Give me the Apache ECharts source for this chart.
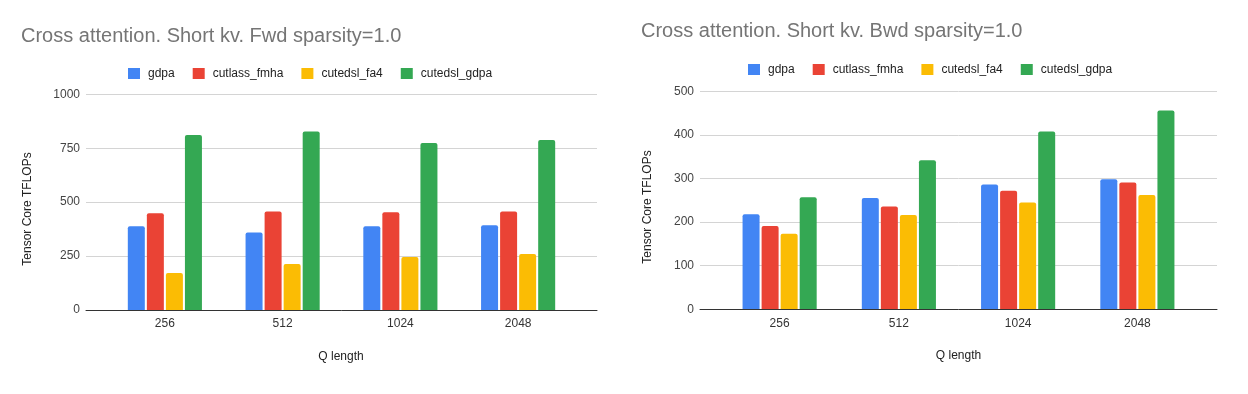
<!DOCTYPE html>
<html>
<head>
<meta charset="utf-8">
<script src="https://cdn.jsdelivr.net/npm/echarts@6/dist/echarts.min.js"></script>
<style>
html,body{margin:0;padding:0;background:#fff;}
#chart{width:1248px;height:394px;}
</style>
</head>
<body>
<div id="chart"></div>
<script>
const categories = ['256', '512', '1024', '2048'];
const seriesNames = ['gdpa', 'cutlass_fmha', 'cutedsl_fa4', 'cutedsl_gdpa'];
const colors = ['#4285F4', '#EA4335', '#FBBC04', '#34A853'];

const fwdGdpa = [388, 359, 388, 393];
const fwdCutlassFmha = [448, 457, 453, 457];
const fwdCutedslFa4 = [172, 213, 246, 260];
const fwdCutedslGdpa = [811, 827, 774, 788];

const bwdGdpa = [218, 255, 286, 298];
const bwdCutlassFmha = [191, 236, 272, 291];
const bwdCutedslFa4 = [173, 216, 245, 262];
const bwdCutedslGdpa = [257, 342, 408, 456];

const fwdTicks = {min: 0, max: 1000, interval: 250};
const bwdTicks = {min: 0, max: 500, interval: 100};

const titles = ['Cross attention. Short kv. Fwd sparsity=1.0', 'Cross attention. Short kv. Bwd sparsity=1.0'];
const yTitle = 'Tensor Core TFLOPs';
const xTitle = 'Q length';

const FONT = '"Liberation Sans", Arial, sans-serif';
const chart = echarts.init(document.getElementById('chart'), null, {renderer: 'canvas'});

function frameAxes(gridIndex, ticks) {
  return {
    x: {
      type: 'category', gridIndex: gridIndex, data: [''],
      axisLine: {show: true, lineStyle: {color: '#333', width: 1}},
      axisTick: {show: false}, axisLabel: {show: false}, z: 5
    },
    y: {
      type: 'value', gridIndex: gridIndex, min: ticks.min, max: ticks.max, interval: ticks.interval,
      axisLine: {show: false}, axisTick: {show: false},
      axisLabel: {color: '#444', fontSize: 12, fontFamily: FONT, margin: 6, formatter: v => String(v)},
      splitLine: {lineStyle: {color: '#d4d4d4', width: 1}}
    }
  };
}
function barAxes(gridIndex, ticks) {
  return {
    x: {
      type: 'category', gridIndex: gridIndex, data: categories,
      axisLine: {show: false}, axisTick: {show: false},
      axisLabel: {color: '#333', fontSize: 12, fontFamily: FONT, margin: 8}
    },
    y: {
      type: 'value', gridIndex: gridIndex, min: ticks.min, max: ticks.max, interval: ticks.interval,
      show: false, splitLine: {show: false}
    }
  };
}

const f0 = frameAxes(0, fwdTicks), b1 = barAxes(1, fwdTicks);
const f2 = frameAxes(2, bwdTicks), b3 = barAxes(3, bwdTicks);

function barSeries(name, data, idx, axisIndex) {
  return {
    name: name, type: 'bar', data: data,
    xAxisIndex: axisIndex, yAxisIndex: axisIndex,
    barWidth: 17, barGap: '12%',
    itemStyle: {color: colors[idx], borderRadius: [2, 2, 0, 0]},
    emphasis: {disabled: true}, z: 3
  };
}

const fwdData = [fwdGdpa, fwdCutlassFmha, fwdCutedslFa4, fwdCutedslGdpa];
const bwdData = [bwdGdpa, bwdCutlassFmha, bwdCutedslFa4, bwdCutedslGdpa];
const series = [];
seriesNames.forEach((n, i) => series.push(barSeries(n, fwdData[i], i, 1)));
seriesNames.forEach((n, i) => series.push(barSeries(n, bwdData[i], i, 3)));

function legend(left, top) {
  return {
    left: left, top: top, itemWidth: 12, itemHeight: 11, itemGap: 18,
    icon: 'rect', data: seriesNames,
    textStyle: {color: '#222', fontSize: 12, fontFamily: FONT, padding: [0, 0, 0, 3]}
  };
}

const option = {
  backgroundColor: '#fff',
  animation: false,
  color: colors,
  title: [
    {text: titles[0], left: 21, top: 26, padding: 0,
     textStyle: {color: '#757575', fontSize: 20, fontWeight: 'normal', fontFamily: FONT}},
    {text: titles[1], left: 641, top: 21, padding: 0,
     textStyle: {color: '#757575', fontSize: 20, fontWeight: 'normal', fontFamily: FONT}}
  ],
  legend: [legend(123, 62.5), legend(743, 58.5)],
  grid: [
    {left: 86, top: 94.3, width: 511, height: 215.7},
    {left: 106, top: 94.3, width: 471, height: 215.7},
    {left: 700, top: 91.3, width: 517, height: 218},
    {left: 720, top: 91.3, width: 477, height: 218}
  ],
  xAxis: [f0.x, b1.x, f2.x, b3.x],
  yAxis: [f0.y, b1.y, f2.y, b3.y],
  series: series,
  graphic: [
    {type: 'text', x: 28, y: 209, rotation: Math.PI / 2,
     style: {text: yTitle, fill: '#222', font: '12px ' + FONT, align: 'center', verticalAlign: 'middle'}},
    {type: 'text', x: 648, y: 207, rotation: Math.PI / 2,
     style: {text: yTitle, fill: '#222', font: '12px ' + FONT, align: 'center', verticalAlign: 'middle'}},
    {type: 'text', x: 341, y: 357,
     style: {text: xTitle, fill: '#222', font: '12px ' + FONT, align: 'center', verticalAlign: 'middle'}},
    {type: 'text', x: 958.5, y: 356,
     style: {text: xTitle, fill: '#222', font: '12px ' + FONT, align: 'center', verticalAlign: 'middle'}}
  ]
};
chart.setOption(option);
</script>
</body>
</html>
